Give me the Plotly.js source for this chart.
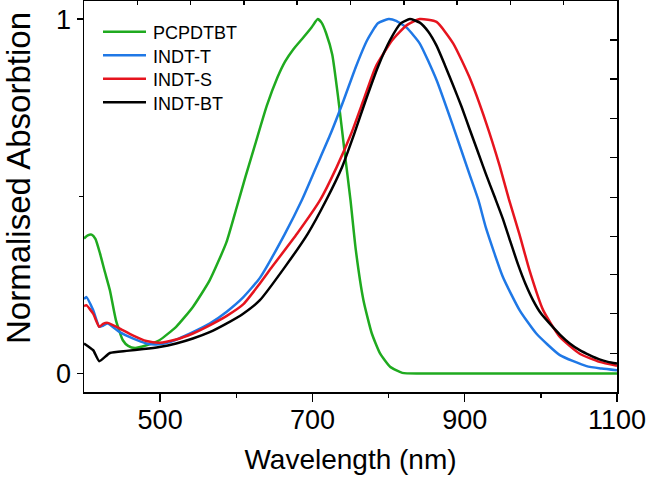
<!DOCTYPE html>
<html>
<head>
<meta charset="utf-8">
<script src="https://cdn.plot.ly/plotly-3.0.1.min.js"></script>
<style>html,body{margin:0;padding:0;background:#fff;}</style>
</head>
<body>
<div id="chart" style="width:648px;height:480px;"></div>
<script>
// Series names
const seriesNames = ["PCPDTBT", "INDT-T", "INDT-S", "INDT-BT"];

// PCPDTBT (green)
const wlPCPDTBT = [400, 405, 410, 415, 421, 427, 434, 442, 451, 458, 467, 482, 499, 521, 543, 565, 587, 600, 612, 625, 640, 654, 664, 675, 688, 699, 707, 712, 718, 726, 734, 742, 750, 757, 767, 778, 789, 802, 818, 840, 900, 1000, 1100];
const absPCPDTBT = [0.381, 0.390, 0.392, 0.380, 0.339, 0.290, 0.235, 0.150, 0.094, 0.078, 0.072, 0.080, 0.094, 0.132, 0.188, 0.263, 0.370, 0.465, 0.555, 0.648, 0.755, 0.835, 0.880, 0.915, 0.948, 0.977, 1.000, 0.990, 0.960, 0.900, 0.775, 0.630, 0.489, 0.348, 0.207, 0.113, 0.056, 0.019, 0.002, 0.0, 0.0, 0.0, 0.0];

// INDT-T (blue)
const wlINDTT = [400, 403, 412, 420, 425, 431, 447, 464, 482, 495, 513, 543, 565, 587, 609, 631, 664, 686, 705, 724, 741, 757, 772, 786, 800, 810, 824, 841, 863, 885, 906, 918, 928, 950, 972, 994, 1025, 1060, 1080, 1100];
const absINDTT = [0.210, 0.216, 0.179, 0.132, 0.135, 0.141, 0.117, 0.099, 0.085, 0.082, 0.089, 0.117, 0.141, 0.174, 0.215, 0.270, 0.395, 0.489, 0.583, 0.677, 0.771, 0.865, 0.941, 0.988, 1.000, 0.995, 0.975, 0.931, 0.828, 0.696, 0.564, 0.489, 0.410, 0.273, 0.179, 0.113, 0.052, 0.021, 0.014, 0.009];

// INDT-S (red)
const wlINDTS = [400, 403, 412, 420, 425, 431, 447, 464, 482, 499, 521, 543, 565, 587, 609, 631, 647, 680, 710, 732, 751, 767, 783, 805, 824, 841, 863, 885, 906, 928, 946, 958, 972, 985, 1003, 1025, 1051, 1077, 1100];
const absINDTS = [0.190, 0.193, 0.169, 0.132, 0.140, 0.143, 0.127, 0.108, 0.092, 0.087, 0.096, 0.113, 0.136, 0.162, 0.195, 0.254, 0.301, 0.395, 0.489, 0.583, 0.677, 0.771, 0.865, 0.941, 0.983, 1.000, 0.992, 0.931, 0.837, 0.708, 0.585, 0.492, 0.392, 0.292, 0.179, 0.103, 0.056, 0.033, 0.022];

// INDT-BT (black)
const wlINDTBT = [400, 412, 420, 434, 456, 478, 499, 521, 543, 565, 587, 609, 631, 664, 694, 718, 739, 755, 770, 786, 802, 816, 828, 841, 852, 863, 874, 885, 896, 906, 917, 928, 939, 950, 960, 970, 980, 990, 1000, 1012, 1025, 1038, 1051, 1064, 1077, 1088, 1100];
const absINDTBT = [0.085, 0.066, 0.035, 0.058, 0.064, 0.069, 0.075, 0.085, 0.099, 0.117, 0.141, 0.169, 0.207, 0.301, 0.395, 0.489, 0.583, 0.677, 0.771, 0.865, 0.941, 0.988, 1.000, 0.990, 0.965, 0.925, 0.870, 0.812, 0.752, 0.692, 0.627, 0.562, 0.500, 0.437, 0.372, 0.308, 0.252, 0.206, 0.170, 0.140, 0.110, 0.085, 0.066, 0.052, 0.040, 0.033, 0.028];

// Axis tick definitions
const xTickVals = [500, 700, 900, 1100];
const xTickText = ["500", "700", "900", "1100"];
const xMinorVals = [600, 800, 1000];
const topTickVals = [470, 540, 610, 680, 750, 820, 890, 960, 1030];
const yTickVals = [0, 1];
const yTickText = ["0", "1"];
const yMinorVals = [0.5];
const rightTickVals = [0.057, 0.170, 0.280, 0.387, 0.497, 0.610, 0.720, 0.831, 0.941];

const colors = ["#1faa1f", "#1f78e6", "#e6141e", "#000000"];
const xs = [wlPCPDTBT, wlINDTT, wlINDTS, wlINDTBT];
const ys = [absPCPDTBT, absINDTT, absINDTS, absINDTBT];

const traces = seriesNames.map((n, i) => ({
  type: "scatter", mode: "lines", name: n,
  x: xs[i], y: ys[i], showlegend: false,
  line: {color: colors[i], width: 2.5, shape: "spline", smoothing: 0.5}
}));
// empty helper trace so the top and right axes exist
traces.push({type: "scatter", x: [], y: [], xaxis: "x2", yaxis: "y2", showlegend: false, hoverinfo: "skip"});

const W = 648, H = 480, M = {l: 84, r: 31, t: 1, b: 88};
const pw = W - M.l - M.r, ph = H - M.t - M.b;
const px2x = p => (p - M.l) / pw;
const px2y = p => (H - M.b - p) / ph;

const font = "Liberation Sans, Arial, sans-serif";

// hand-placed legend (samples + labels)
const legendRowY = [31.7, 55.2, 78.7, 102.2];
const shapes = seriesNames.map((n, i) => ({
  type: "line", xref: "paper", yref: "paper",
  x0: px2x(103), x1: px2x(146), y0: px2y(legendRowY[i]), y1: px2y(legendRowY[i]),
  line: {color: colors[i], width: 2.5}
}));
const annotations = seriesNames.map((n, i) => ({
  text: n, xref: "paper", yref: "paper", x: px2x(151), y: px2y(legendRowY[i] + 1.5),
  xanchor: "left", yanchor: "middle", showarrow: false,
  font: {family: font, size: 18, color: "#000"}
}));
annotations.push({
  text: "Normalised Absorbtion", textangle: -90, xref: "paper", yref: "paper",
  x: px2x(18.5), y: px2y(178.5), xanchor: "center", yanchor: "middle", showarrow: false,
  font: {family: font, size: 33, color: "#000"}
});

const layout = {
  width: W, height: H,
  margin: {l: M.l, r: M.r, t: M.t, b: M.b, pad: 0},
  paper_bgcolor: "#fff", plot_bgcolor: "#fff",
  showlegend: false,
  xaxis: {range: [400, 1100], showgrid: false, zeroline: false, showline: true, linecolor: "#000", linewidth: 1.5,
          ticks: "outside", ticklen: 8, tickwidth: 1.5, tickcolor: "#000",
          tickmode: "array", tickvals: xTickVals, ticktext: xTickText, ticklabelstandoff: -5,
          minor: {tickmode: "array", tickvals: xMinorVals, ticks: "outside", ticklen: 4, tickwidth: 1.5, tickcolor: "#000"},
          tickfont: {family: font, size: 27, color: "#000"},
          title: {text: "Wavelength (nm)", font: {family: font, size: 28, color: "#000"}, standoff: 15}},
  xaxis2: {overlaying: "x", side: "top", anchor: "y", range: [400, 1100], showgrid: false, zeroline: false,
           showline: true, linecolor: "#000", linewidth: 1.5, ticks: "inside", ticklen: 4, tickwidth: 1.5, tickcolor: "#000",
           tickmode: "array", tickvals: topTickVals, showticklabels: false},
  yaxis: {range: [-0.052, 1.051], showgrid: false, zeroline: false, showline: true, linecolor: "#000", linewidth: 1.5,
          ticks: "outside", ticklen: 6, tickwidth: 1.5, tickcolor: "#000",
          tickmode: "array", tickvals: yTickVals, ticktext: yTickText,
          minor: {tickmode: "array", tickvals: yMinorVals, ticks: "outside", ticklen: 4, tickwidth: 1.5, tickcolor: "#000"},
          tickfont: {family: font, size: 27, color: "#000"}},
  yaxis2: {overlaying: "y", side: "right", anchor: "x", range: [-0.052, 1.051], showgrid: false, zeroline: false,
           showline: true, linecolor: "#000", linewidth: 1.5, ticks: "inside", ticklen: 7, tickwidth: 1.5, tickcolor: "#000",
           tickmode: "array", tickvals: rightTickVals, showticklabels: false},
  shapes: shapes,
  annotations: annotations
};

Plotly.newPlot("chart", traces, layout, {staticPlot: true, displayModeBar: false});
</script>
</body>
</html>
